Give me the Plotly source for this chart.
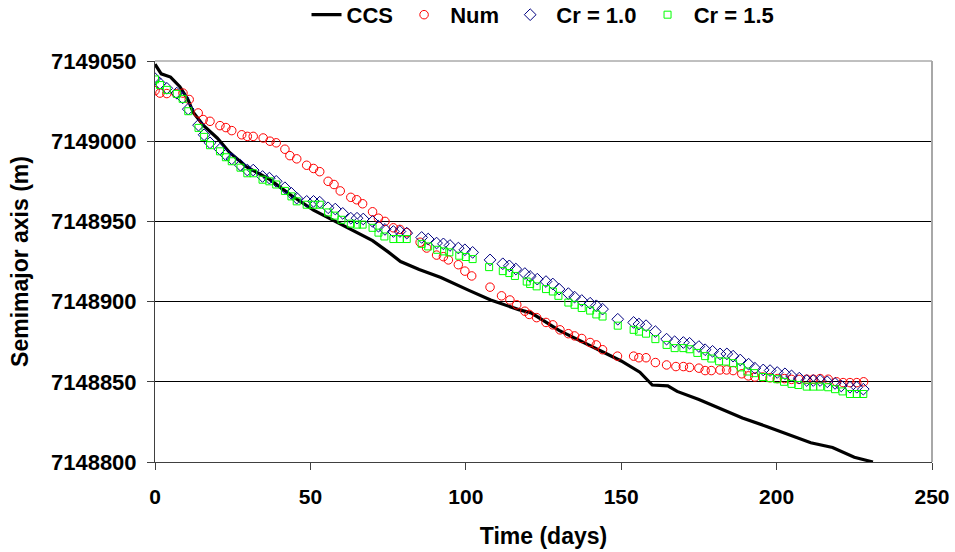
import plotly.graph_objects as go

# ---- data ----
ccs_days = [0, 2, 5, 8, 10.6, 12.3, 15.5, 20, 24, 29.5, 37, 44, 51, 56, 62, 70, 75, 79, 85, 92,
            101, 108, 117, 121, 130, 143, 150, 156, 160, 165, 168, 175, 182, 189, 197, 204, 211,
            218, 225, 231]
ccs_vals = [7149048, 7149042, 7149040, 7149034, 7149026, 7149018, 7149010, 7149002, 7148993,
            7148984, 7148976, 7148966, 7148957, 7148952, 7148946, 7148938, 7148931, 7148925,
            7148920, 7148915, 7148907, 7148901, 7148895, 7148893, 7148882, 7148870, 7148863,
            7148856, 7148848, 7148847.5, 7148844, 7148839, 7148833, 7148827.5, 7148822,
            7148817, 7148812, 7148809, 7148803, 7148800]

num_days = [0, 1.6, 3.8, 6.8, 9, 11, 13.9, 15.5, 17.7, 20.9, 22.8, 24.7, 27.9, 29.7, 31.6, 34.8,
            37, 39, 41.8, 43.4, 45.6, 48.8, 51, 53, 55.7, 57.6, 59.6, 63, 64.9, 66.8, 70, 71.9,
            74, 76.7, 78.8, 81, 85.3, 87.4, 90.6, 92.8, 94.4, 97.6, 99.7, 101.9, 107.8, 111.5,
            114.2, 116.4, 119, 120.4, 122.8, 125.8, 128, 130.3, 133, 135, 137.3, 140, 142, 144,
            148.8, 154, 155.7, 158, 161, 164.6, 167.6, 170, 172, 175, 177, 179, 181.8, 183.9,
            186, 188.8, 190.9, 193, 195.5, 197.9, 200.2, 202.5, 204.8, 207.2, 209.7, 211.8,
            214, 216.6, 219.3, 221.4, 223.6, 225.8, 228]
num_vals = [7149031.5, 7149030, 7149029.7, 7149029.7, 7149030, 7149026, 7149017.6, 7149013.5,
            7149012.4, 7149009.7, 7149008.5, 7149006.6, 7149004, 7149003, 7149003, 7149002,
            7149000, 7148999, 7148995, 7148991, 7148989, 7148985, 7148983, 7148981, 7148975,
            7148973, 7148969, 7148965, 7148963.5, 7148961, 7148956, 7148952, 7148950, 7148946,
            7148945, 7148943, 7148937, 7148933.4, 7148929, 7148928, 7148926, 7148923, 7148919,
            7148916, 7148909, 7148903.6, 7148901, 7148898, 7148894, 7148892, 7148890, 7148887,
            7148885.5, 7148882.4, 7148880, 7148878.6, 7148877, 7148874.5, 7148873, 7148870,
            7148866, 7148866, 7148865, 7148865, 7148862, 7148860.5, 7148859.5, 7148859.5,
            7148859, 7148858.5, 7148857, 7148857, 7148857.4, 7148857.4, 7148857, 7148855,
            7148853.7, 7148853, 7148853, 7148852.5, 7148852, 7148852, 7148851.5, 7148851.5,
            7148851.6, 7148851.6, 7148852, 7148851.6, 7148850, 7148849.5, 7148849.5,
            7148849.5, 7148850]

cr10_days = [0, 1.6, 3.8, 7, 8.9, 10.7, 14, 15.8, 17.7, 20.9, 22.8, 24.7, 27.5, 29.7, 31.6, 34.6,
             36.8, 39, 41.8, 43.9, 45.6, 48.8, 51, 53, 55.7, 58, 60.4, 63, 65, 67, 70, 71.9, 74,
             76.7, 78.8, 81, 85.8, 87.9, 90.6, 92.8, 94.9, 97.6, 99.7, 102.2, 107.8, 111.9, 114,
             116.1, 119, 120.7, 123, 125.8, 128, 130, 133, 135, 137.3, 140, 142, 144, 148.9,
             154, 155.7, 158, 161, 164.6, 167.2, 170, 172, 175, 177, 179.4, 181.8, 184, 186,
             188.3, 191, 193, 195.7, 197.9, 200.2, 202.7, 204.8, 207.3, 209.7, 211.8, 214,
             216.3, 218.8, 220.8, 223.6, 225.8, 227.9]
cr10_vals = [7149039, 7149036, 7149033, 7149030, 7149027, 7149020, 7149010, 7149004, 7148999,
             7148995, 7148991.5, 7148989, 7148985, 7148982, 7148982, 7148978, 7148977, 7148975,
             7148971, 7148967.5, 7148964.5, 7148962.5, 7148962.5, 7148962, 7148958.5,
             7148957.7, 7148955, 7148952, 7148952, 7148951.5, 7148950, 7148947, 7148945,
             7148943.7, 7148943.7, 7148942.7, 7148940, 7148939, 7148936.5, 7148936, 7148935,
             7148933.4, 7148932.3, 7148930.7, 7148926, 7148923.6, 7148922.3, 7148920.3,
             7148917.5, 7148915.7, 7148914, 7148912.5, 7148911, 7148907.8, 7148905, 7148902.8,
             7148900.7, 7148899, 7148897.4, 7148895.3, 7148889, 7148887, 7148886, 7148885,
             7148881.3, 7148876.6, 7148875, 7148874.5, 7148874, 7148872, 7148870, 7148869,
             7148867.4, 7148867.4, 7148866, 7148863.6, 7148861, 7148858.5, 7148857.4,
             7148857, 7148855.8, 7148855, 7148853.7, 7148852.3, 7148850.8, 7148850.8,
             7148850.8, 7148850, 7148849, 7148847.4, 7148846.6, 7148846.6, 7148845.4]

cr15_days = [0, 1.6, 3.8, 7, 8.9, 10.7, 14, 15.8, 17.7, 20.9, 22.8, 24.7, 27.5, 29.7, 31.6, 34.6,
             36.8, 39, 41.8, 43.9, 45.6, 48.8, 51, 53, 55.7, 57.8, 60, 63, 65, 66.8, 70, 71.9,
             73.8, 76.7, 78.8, 81, 85.8, 87.9, 90.8, 93, 94.7, 97.9, 100, 102.2, 107.5, 111.9,
             114, 115.8, 119.6, 120.7, 122.8, 125.8, 128, 129.8, 133, 135, 137.3, 140, 142, 144,
             148.9, 154, 155.7, 158, 161, 164.6, 167.2, 170, 172, 174.5, 177, 179, 181.5, 183.7,
             186, 188.5, 190.6, 192.8, 195.6, 197.9, 200.2, 202.4, 204.8, 207, 209.7, 211.8,
             214, 216.6, 218.8, 221.2, 223.6, 225.8, 227.9]
cr15_vals = [7149038.5, 7149035, 7149032, 7149029.5, 7149026.4, 7149018.7, 7149008.3,
             7149002.7, 7148997.5, 7148993.7, 7148990, 7148987.5, 7148983.5, 7148980, 7148980,
             7148976, 7148975, 7148973, 7148969, 7148965.6, 7148962.5, 7148960.4, 7148960.4,
             7148960.4, 7148955.6, 7148953.6, 7148951, 7148948.6, 7148948, 7148948, 7148946,
             7148943, 7148940.6, 7148939, 7148939, 7148939, 7148936, 7148934.4, 7148932.3,
             7148931.3, 7148930.7, 7148928.6, 7148927.8, 7148926.5, 7148921.5, 7148919,
             7148917.8, 7148916, 7148912.5, 7148911, 7148909.5, 7148907.8, 7148906.3,
             7148903.6, 7148899.4, 7148898, 7148896, 7148894.4, 7148892, 7148890.7, 7148885,
             7148882.4, 7148881.3, 7148880, 7148876.6, 7148873, 7148871, 7148871, 7148870.3,
             7148868, 7148866, 7148864.5, 7148862.8, 7148862.6, 7148861.6, 7148859, 7148856.4,
             7148855.4, 7148853, 7148852.3, 7148851.6, 7148850, 7148848.7, 7148848, 7148847,
             7148847, 7148847, 7148846.6, 7148845.4, 7148844, 7148842.4, 7148842.4, 7148842.4]

x_ticks = [0, 50, 100, 150, 200, 250]
y_ticks = [7148800, 7148850, 7148900, 7148950, 7149000, 7149050]

assert len(num_days) == len(num_vals)
assert len(cr10_days) == len(cr10_vals)
assert len(cr15_days) == len(cr15_vals)
assert len(ccs_days) == len(ccs_vals)

FONT = "Liberation Sans, Arial, sans-serif"
XTICK_FONT = dict(family=FONT, size=21, color="black", weight="bold")
YTICK_FONT = dict(family=FONT, size=22, color="black", weight="bold")
TITLE_FONT = dict(family=FONT, size=23, color="black", weight="bold")
NB = "\u00a0"

fig = go.Figure()
fig.add_trace(go.Scatter(x=ccs_days, y=ccs_vals, mode="lines", name="CCS" + NB,
                         line=dict(color="black", width=3.2)))
fig.add_trace(go.Scatter(x=num_days, y=num_vals, mode="markers", name=NB + "Num" + NB,
                         marker=dict(symbol="circle-open", size=8.5, color="#ff0000",
                                     line=dict(width=1, color="#ff0000"))))
fig.add_trace(go.Scatter(x=cr10_days, y=cr10_vals, mode="markers", name=NB + "Cr = 1.0" + NB,
                         marker=dict(symbol="diamond-open", size=9, color="#000080",
                                     line=dict(width=1, color="#000080"))))
fig.add_trace(go.Scatter(x=cr15_days, y=cr15_vals, mode="markers", name=NB + "Cr = 1.5",
                         marker=dict(symbol="square-open", size=7, color="#00ff00",
                                     line=dict(width=1, color="#00ff00"))))

fig.update_layout(
    width=955, height=552,
    margin=dict(l=155, r=23, t=61, b=90, autoexpand=False),
    paper_bgcolor="white", plot_bgcolor="white",
    font=dict(family=FONT, size=21, color="black", weight="bold"),
    showlegend=True,
    legend=dict(orientation="h", x=0.195, xanchor="left", xref="paper",
                y=1.115, yanchor="middle", yref="paper",
                font=dict(family=FONT, size=22, color="black", weight="bold"),
                itemwidth=30, bgcolor="rgba(0,0,0,0)"),
    xaxis=dict(range=[0, 250], tickvals=x_ticks, ticktext=[str(v) for v in x_ticks],
               showgrid=False, zeroline=False, showline=True, linecolor="#404040",
               linewidth=1, ticks="outside", ticklen=7, tickcolor="#404040",
               tickfont=XTICK_FONT, ticklabelstandoff=9,
               title=dict(text="Time (days)", standoff=20, font=TITLE_FONT)),
    yaxis=dict(range=[7148800, 7149050], tickvals=y_ticks, ticktext=[str(v) for v in y_ticks],
               showgrid=True, gridcolor="black", gridwidth=1, zeroline=False,
               showline=True, linecolor="#404040", linewidth=1, ticks="outside", ticklen=7,
               tickcolor="#404040", ticklabelstandoff=6, tickfont=YTICK_FONT,
               title=dict(text="Semimajor axis (m)", standoff=15, font=TITLE_FONT)),
    shapes=[
        dict(type="line", xref="paper", yref="paper", x0=0, x1=1, y0=1, y1=1,
             line=dict(color="#808080", width=1), layer="above"),
        dict(type="line", xref="paper", yref="paper", x0=1, x1=1, y0=0, y1=1,
             line=dict(color="#a8a8a8", width=2), layer="above"),
    ],
)

fig.write_html("out.html")
